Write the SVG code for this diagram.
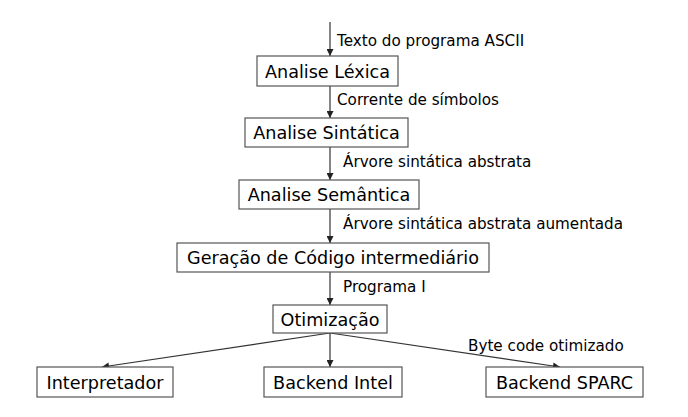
<svg xmlns="http://www.w3.org/2000/svg" width="688" height="417" viewBox="0 0 688 417">
<defs>
<marker id="ah" viewBox="0 0 10 10" refX="10" refY="5" markerWidth="10" markerHeight="7" markerUnits="userSpaceOnUse" orient="auto">
<path d="M0,0 L10,5 L0,10 z" fill="#222"/>
</marker>
<style>
.box{fill:#fff;stroke:#555;stroke-width:1.2}
.bt{font-family:"DejaVu Sans",Verdana,sans-serif;font-size:17.6px;fill:#000;text-anchor:middle}
.lt{font-family:"DejaVu Sans",Verdana,sans-serif;font-size:15.2px;fill:#000}
.c{stroke:#333;stroke-width:1.2;fill:none;marker-end:url(#ah)}
</style>
</defs>
<rect width="688" height="417" fill="#fff"/>
<g id="connectors">
<line class="c" x1="330" y1="22" x2="330" y2="56"/>
<line class="c" x1="330" y1="86" x2="330" y2="118"/>
<line class="c" x1="330" y1="147" x2="330" y2="180"/>
<line class="c" x1="330" y1="209" x2="330" y2="243"/>
<line class="c" x1="330" y1="272" x2="330" y2="305"/>
<line class="c" x1="330" y1="333" x2="330" y2="367"/>
<line class="c" x1="330" y1="333" x2="102" y2="367"/>
<line class="c" x1="330" y1="333" x2="560" y2="367"/>
<text class="lt" x="337" y="46">Texto do programa ASCII</text>
<text class="lt" x="337" y="105">Corrente de símbolos</text>
<text class="lt" x="343" y="167">Árvore sintática abstrata</text>
<text class="lt" x="343" y="229">Árvore sintática abstrata aumentada</text>
<text class="lt" x="343" y="292">Programa I</text>
<text class="lt" x="468" y="351">Byte code otimizado</text>
</g>
<g id="lexica"><rect class="box" x="257" y="56" width="141" height="30"/><text class="bt" x="327.5" y="77.5">Analise Léxica</text></g>
<g id="sintatica"><rect class="box" x="245" y="118" width="163" height="29"/><text class="bt" x="326.5" y="139">Analise Sintática</text></g>
<g id="semantica"><rect class="box" x="239" y="180" width="180" height="29"/><text class="bt" x="329" y="201">Analise Semântica</text></g>
<g id="geracao"><rect class="box" x="177" y="243" width="312" height="29"/><text class="bt" x="333" y="264">Geração de Código intermediário</text></g>
<g id="otimizacao"><rect class="box" x="273" y="305" width="114" height="28"/><text class="bt" x="330" y="325.5">Otimização</text></g>
<g id="interpretador"><rect class="box" x="37" y="367" width="136" height="30"/><text class="bt" x="105" y="388.5">Interpretador</text></g>
<g id="intel"><rect class="box" x="264" y="367" width="138" height="30"/><text class="bt" x="333" y="388.5">Backend Intel</text></g>
<g id="sparc"><rect class="box" x="486" y="367" width="157" height="30"/><text class="bt" x="564.5" y="388.5">Backend SPARC</text></g>
</svg>
